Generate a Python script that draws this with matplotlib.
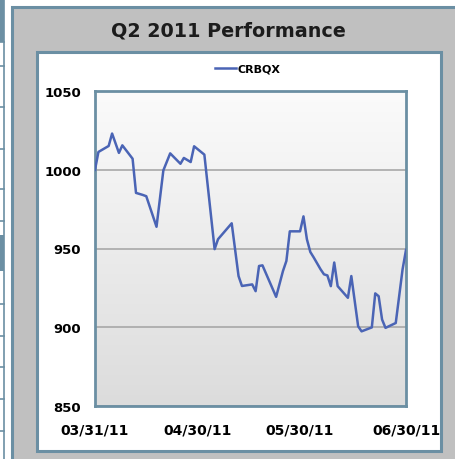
import numpy as np
import pandas as pd
import matplotlib
matplotlib.use("Agg")
import matplotlib.pyplot as plt
import matplotlib.dates as mdates
from matplotlib.patches import Rectangle
from matplotlib.lines import Line2D

# Q2 2011 daily NAV of CRBQX, days after 03/31/11
day_offsets = [0, 1, 4, 5, 7, 8, 11, 12, 14, 15, 18, 20, 22, 25, 26, 28, 29,
               32, 35, 36, 40, 42, 43, 46, 47, 48, 49, 53, 55, 56, 57, 60, 61,
               62, 63, 64, 66, 67, 68, 69, 70, 71, 74, 75, 77, 78, 81, 82, 83,
               84, 85, 88, 90, 91]
nav = [1000.0, 1011.3, 1015.1, 1023.0, 1010.7, 1015.5, 1007.0, 985.3, 984.0,
       983.2, 963.8, 999.6, 1010.4, 1003.8, 1007.5, 1004.9, 1014.9, 1009.6,
       949.6, 955.9, 966.0, 932.5, 926.2, 927.2, 922.9, 938.9, 939.3, 919.3,
       935.7, 942.1, 960.9, 960.9, 970.4, 955.9, 947.8, 944.3, 936.8, 933.6,
       932.9, 926.1, 941.1, 926.1, 918.7, 932.5, 900.6, 897.4, 899.9, 921.5,
       919.7, 904.9, 899.6, 902.7, 936.8, 949.1]
series_name = "CRBQX"
title = "Q2 2011 Performance"
xtick_dates = ["2011-03-31", "2011-04-30", "2011-05-30", "2011-06-30"]
yticks = [850, 900, 950, 1000, 1050]

dates = pd.Timestamp("2011-03-31") + pd.to_timedelta(day_offsets, unit="D")

W, H = 456, 460
border = "#6b8fa3"
fig = plt.figure(figsize=(W / 100, H / 100), dpi=100)
fig.patch.set_facecolor("white")


def px_rect(x0, y0, x1, y1, **kw):
    # rectangle given in image pixels (origin top-left)
    r = Rectangle((x0 / W, 1 - y1 / H), (x1 - x0) / W, (y1 - y0) / H,
                  transform=fig.transFigure, zorder=-5, **kw)
    fig.add_artist(r)
    return r


# bits of the neighbouring table at the left edge
px_rect(-2, -2, 4, 43, facecolor=border, edgecolor="none")
px_rect(-2, 236, 4, 272, facecolor=border, edgecolor="none")
fig.add_artist(Line2D([4.5 / W] * 2, [0, 1], transform=fig.transFigure,
                      color=border, lw=1.2, zorder=-4))
for yy in [43, 67, 108, 150, 190, 222, 305, 337, 368, 400, 432]:
    fig.add_artist(Line2D([0, 4.5 / W], [1 - yy / H] * 2, zorder=-4,
                          transform=fig.transFigure, color=border, lw=1.2))

# grey outer box and white inner panel
px_rect(12, 8, W + 10, H + 10, facecolor="#c0c0c0", edgecolor=border, lw=2.2)
px_rect(37, 53, 441, 452, facecolor="white", edgecolor=border, lw=2.2)

fig.text(228 / W, 1 - 31 / H, title, ha="center", va="center",
         fontsize=13.8, fontweight="bold", color="#1c1c1c")

ax = fig.add_axes([95 / W, 1 - 407 / H, 311 / W, 315 / H])
ax.set_zorder(2)
grad = np.linspace(1, 0, 256).reshape(-1, 1)
ax.imshow(grad, extent=[0, 1, 0, 1], transform=ax.transAxes, aspect="auto",
          cmap=matplotlib.colors.LinearSegmentedColormap.from_list(
              "bg", ["#dcdcdc", "#fbfbfb"]), zorder=0)

line, = ax.plot(dates, nav, color="#4a64b5", lw=1.8, zorder=3,
                label=series_name)

ax.set_ylim(850, 1050)
ax.set_xlim(pd.Timestamp("2011-03-31"), pd.Timestamp("2011-06-30"))
ax.set_yticks(yticks)
ax.set_yticklabels([str(v) for v in yticks])
ax.set_xticks(pd.to_datetime(xtick_dates))
ax.xaxis.set_major_formatter(mdates.DateFormatter("%m/%d/%y"))
ax.grid(axis="y", color="#a8a8a8", lw=1.2, zorder=1)
ax.set_axisbelow(True)
ax.tick_params(length=0)
ax.tick_params(axis="y", pad=10, labelsize=9.5)
ax.tick_params(axis="x", pad=12, labelsize=10)
for lab in ax.get_xticklabels() + ax.get_yticklabels():
    lab.set_fontweight("bold")
for sp in ax.spines.values():
    sp.set_color(border)
    sp.set_linewidth(2)

fig.legend(handles=[line], loc="center", bbox_to_anchor=(248 / W, 1 - 70 / H),
           frameon=False, prop={"weight": "bold", "size": 8},
           handlelength=1.9, handletextpad=0.1, borderpad=0)

fig.savefig("out.png", dpi=100)
